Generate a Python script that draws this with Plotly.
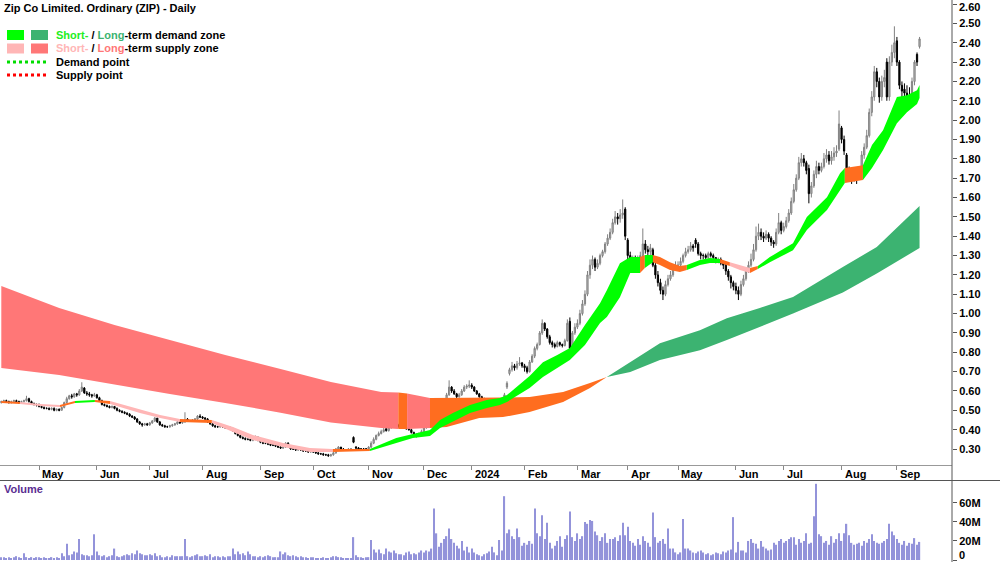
import numpy as np
import plotly.graph_objects as go

# ---------------- daily price data (Apr 2023 - Sep 2024), one line per month ----------------
open_ = [
 0.54,0.545,0.55,0.545,0.54,0.545,0.55,0.545,0.54,0.545,0.55,0.56,0.545,0.535,0.53,
 0.53,0.52,0.515,0.51,0.51,0.505,0.51,0.50,0.505,0.50,0.515,0.54,0.56,0.575,0.57,0.585,0.58,0.60,0.615,0.59,0.585,0.58,0.575,
 0.58,0.565,0.55,0.53,0.525,0.52,0.515,0.52,0.51,0.50,0.495,0.49,0.485,0.48,0.47,0.465,0.455,0.44,0.43,0.425,0.43,
 0.425,0.435,0.445,0.46,0.44,0.425,0.42,0.415,0.415,0.42,0.425,0.43,0.44,0.435,0.44,0.455,0.445,0.445,0.45,0.455,0.47,
 0.465,0.46,0.455,0.44,0.43,0.42,0.415,0.415,0.42,0.415,0.41,0.41,0.405,0.395,0.38,0.37,0.36,0.355,0.35,0.35,0.345,0.35,0.36,
 0.345,0.335,0.33,0.33,0.325,0.32,0.32,0.315,0.31,0.305,0.31,0.33,0.315,0.30,0.30,0.295,0.30,0.295,0.29,0.29,0.285,
 0.29,0.285,0.28,0.275,0.275,0.27,0.27,0.265,0.27,0.28,0.30,0.31,0.30,0.295,0.295,0.30,0.36,0.31,0.305,0.30,0.30,0.30,
 0.30,0.31,0.33,0.35,0.37,0.38,0.39,0.405,0.395,0.41,0.435,0.425,0.42,0.42,0.415,0.41,0.405,0.40,0.385,0.375,0.37,0.38,
 0.39,0.41,0.415,0.43,0.445,0.52,0.49,0.48,0.50,0.53,0.58,0.62,0.60,0.585,0.57,0.58,0.60,0.62,0.625,
 0.63,0.62,0.60,0.585,0.57,0.56,0.55,0.545,0.55,0.54,0.50,0.51,0.525,0.53,0.62,0.69,0.71,0.73,0.72,0.74,0.745,
 0.73,0.72,0.70,0.75,0.78,0.82,0.84,0.90,0.95,0.92,0.88,0.85,0.84,0.83,0.85,0.84,0.835,0.86,0.96,0.82,0.90,
 0.93,0.95,1.00,1.05,1.10,1.20,1.25,1.28,1.24,1.26,1.30,1.32,1.36,1.39,1.42,1.47,1.50,1.49,1.51,1.54,
 1.38,1.30,1.27,1.28,1.27,1.28,1.30,1.36,1.33,1.32,1.33,1.25,1.20,1.16,1.12,1.10,1.15,1.18,1.20,1.23,
 1.25,1.25,1.27,1.30,1.32,1.33,1.35,1.38,1.36,1.31,1.30,1.30,1.29,1.31,1.30,1.29,1.27,1.28,1.26,1.25,1.22,1.19,1.16,
 1.14,1.12,1.10,1.15,1.18,1.22,1.25,1.28,1.33,1.40,1.42,1.40,1.39,1.41,1.39,1.37,1.36,1.42,1.47,
 1.43,1.45,1.48,1.52,1.58,1.64,1.70,1.78,1.80,1.78,1.75,1.62,1.66,1.72,1.76,1.74,1.76,1.80,1.82,1.79,1.81,1.83,1.85,
 1.96,1.90,1.82,1.72,1.71,1.70,1.72,1.70,1.73,1.82,1.86,1.92,2.04,2.12,2.25,2.20,2.12,2.20,2.30,2.12,2.30,2.35,
 2.41,2.30,2.18,2.16,2.14,2.12,2.12,2.20,2.34,2.38,
]
high = [
 0.55,0.555,0.555,0.55,0.55,0.555,0.555,0.55,0.55,0.555,0.575,0.565,0.55,0.54,0.535,
 0.535,0.525,0.52,0.515,0.515,0.515,0.515,0.51,0.51,0.52,0.545,0.57,0.58,0.585,0.59,0.59,0.61,0.645,0.62,0.60,0.595,0.585,0.59,
 0.585,0.57,0.555,0.535,0.53,0.525,0.525,0.52,0.515,0.505,0.50,0.495,0.49,0.485,0.475,0.47,0.46,0.445,0.435,0.435,0.435,
 0.44,0.45,0.465,0.46,0.445,0.43,0.425,0.42,0.425,0.43,0.435,0.445,0.445,0.445,0.49,0.46,0.45,0.455,0.46,0.475,0.48,
 0.47,0.465,0.46,0.445,0.435,0.425,0.42,0.425,0.425,0.42,0.415,0.415,0.41,0.40,0.385,0.375,0.365,0.36,0.355,0.355,0.355,0.37,0.365,
 0.35,0.34,0.335,0.335,0.33,0.325,0.325,0.32,0.315,0.315,0.335,0.335,0.32,0.305,0.305,0.305,0.30,0.30,0.295,0.295,0.295,
 0.29,0.29,0.285,0.28,0.28,0.275,0.275,0.275,0.285,0.305,0.315,0.31,0.305,0.30,0.305,0.305,0.365,0.315,0.31,0.305,0.305,0.305,
 0.315,0.34,0.36,0.375,0.39,0.40,0.41,0.41,0.42,0.45,0.44,0.43,0.43,0.425,0.42,0.415,0.41,0.405,0.39,0.38,0.385,0.40,
 0.415,0.425,0.44,0.455,0.535,0.525,0.50,0.51,0.54,0.59,0.655,0.625,0.61,0.59,0.59,0.61,0.63,0.635,0.655,
 0.64,0.625,0.605,0.59,0.575,0.565,0.555,0.56,0.555,0.545,0.52,0.535,0.54,0.59,0.65,0.72,0.75,0.74,0.755,0.775,0.75,
 0.74,0.73,0.76,0.79,0.83,0.85,0.91,0.97,0.955,0.925,0.89,0.86,0.85,0.86,0.855,0.845,0.87,0.97,0.98,0.91,0.95,
 0.97,1.02,1.07,1.12,1.22,1.28,1.30,1.29,1.28,1.31,1.33,1.37,1.41,1.44,1.49,1.53,1.52,1.54,1.59,1.55,
 1.39,1.32,1.30,1.30,1.30,1.32,1.44,1.38,1.35,1.36,1.34,1.27,1.22,1.18,1.14,1.17,1.20,1.22,1.25,1.27,
 1.27,1.29,1.31,1.34,1.35,1.37,1.36,1.39,1.37,1.32,1.31,1.31,1.32,1.32,1.31,1.29,1.29,1.29,1.27,1.26,1.23,1.20,1.17,
 1.16,1.14,1.17,1.20,1.24,1.27,1.31,1.36,1.45,1.465,1.44,1.42,1.43,1.42,1.40,1.38,1.44,1.52,1.48,
 1.47,1.50,1.54,1.60,1.67,1.72,1.81,1.83,1.82,1.79,1.77,1.68,1.74,1.79,1.78,1.78,1.83,1.85,1.84,1.84,1.86,1.87,2.05,
 1.97,1.92,1.83,1.76,1.74,1.75,1.74,1.76,1.84,1.88,1.95,2.06,2.15,2.28,2.27,2.22,2.23,2.26,2.32,2.33,2.39,2.485,
 2.43,2.31,2.20,2.19,2.18,2.17,2.22,2.31,2.35,2.43,
]
low = [
 0.535,0.54,0.54,0.535,0.535,0.54,0.54,0.535,0.535,0.54,0.545,0.54,0.53,0.525,0.52,
 0.515,0.51,0.505,0.505,0.50,0.50,0.495,0.495,0.495,0.50,0.51,0.535,0.555,0.56,0.565,0.57,0.575,0.595,0.585,0.575,0.57,0.565,0.57,
 0.56,0.545,0.525,0.52,0.515,0.51,0.51,0.505,0.495,0.49,0.485,0.48,0.475,0.465,0.46,0.45,0.435,0.425,0.415,0.42,0.42,
 0.42,0.43,0.44,0.435,0.42,0.415,0.41,0.41,0.41,0.415,0.42,0.425,0.43,0.43,0.435,0.44,0.44,0.44,0.445,0.45,0.46,
 0.455,0.45,0.435,0.425,0.415,0.41,0.41,0.41,0.41,0.405,0.405,0.40,0.39,0.375,0.365,0.355,0.35,0.345,0.345,0.34,0.34,0.345,0.34,
 0.33,0.325,0.325,0.32,0.315,0.315,0.31,0.305,0.30,0.30,0.305,0.31,0.295,0.295,0.29,0.29,0.29,0.285,0.285,0.28,0.28,
 0.28,0.275,0.27,0.27,0.265,0.265,0.26,0.26,0.265,0.275,0.295,0.295,0.29,0.29,0.29,0.295,0.33,0.30,0.295,0.295,0.295,0.295,
 0.295,0.305,0.325,0.345,0.365,0.375,0.385,0.39,0.39,0.405,0.42,0.415,0.41,0.41,0.405,0.40,0.395,0.38,0.37,0.36,0.365,0.375,
 0.385,0.405,0.41,0.425,0.44,0.485,0.47,0.475,0.495,0.525,0.575,0.59,0.58,0.56,0.565,0.575,0.595,0.61,0.615,
 0.61,0.595,0.58,0.565,0.55,0.54,0.535,0.54,0.53,0.485,0.495,0.50,0.515,0.525,0.61,0.68,0.70,0.705,0.71,0.73,0.72,
 0.70,0.69,0.695,0.745,0.77,0.81,0.835,0.89,0.91,0.87,0.84,0.825,0.82,0.825,0.83,0.825,0.83,0.855,0.79,0.81,0.89,
 0.92,0.94,0.99,1.04,1.09,1.18,1.23,1.22,1.23,1.25,1.29,1.31,1.35,1.38,1.41,1.46,1.46,1.47,1.49,1.38,
 1.28,1.25,1.25,1.25,1.26,1.27,1.29,1.31,1.30,1.30,1.24,1.18,1.14,1.10,1.07,1.09,1.14,1.17,1.19,1.22,
 1.23,1.24,1.26,1.29,1.31,1.32,1.32,1.34,1.30,1.28,1.28,1.27,1.28,1.29,1.27,1.26,1.26,1.25,1.23,1.20,1.17,1.13,1.12,
 1.10,1.07,1.09,1.14,1.17,1.21,1.24,1.27,1.32,1.38,1.38,1.37,1.38,1.37,1.35,1.34,1.35,1.41,1.41,
 1.42,1.44,1.47,1.51,1.57,1.63,1.69,1.76,1.76,1.72,1.57,1.60,1.65,1.70,1.72,1.73,1.75,1.78,1.77,1.77,1.79,1.81,1.84,
 1.88,1.82,1.68,1.68,1.67,1.68,1.67,1.69,1.72,1.80,1.85,1.91,2.02,2.10,2.17,2.09,2.10,2.17,2.10,2.10,2.28,2.32,
 2.28,2.16,2.10,2.09,2.07,2.06,2.10,2.18,2.28,2.37,
]
close = [
 0.545,0.55,0.545,0.54,0.545,0.55,0.545,0.54,0.545,0.55,0.56,0.545,0.535,0.53,0.53,
 0.52,0.515,0.51,0.51,0.505,0.51,0.50,0.505,0.50,0.515,0.54,0.56,0.575,0.57,0.585,0.58,0.60,0.62,0.59,0.585,0.58,0.575,0.58,
 0.565,0.55,0.53,0.525,0.52,0.515,0.52,0.51,0.50,0.495,0.49,0.485,0.48,0.47,0.465,0.455,0.44,0.43,0.425,0.43,0.425,
 0.435,0.445,0.46,0.44,0.425,0.42,0.415,0.415,0.42,0.425,0.43,0.44,0.435,0.44,0.45,0.445,0.445,0.45,0.455,0.47,0.465,
 0.46,0.455,0.44,0.43,0.42,0.415,0.415,0.42,0.415,0.41,0.41,0.405,0.395,0.38,0.37,0.36,0.355,0.35,0.35,0.345,0.35,0.36,0.345,
 0.335,0.33,0.33,0.325,0.32,0.32,0.315,0.31,0.305,0.31,0.33,0.315,0.30,0.30,0.295,0.30,0.295,0.29,0.29,0.285,0.29,
 0.285,0.28,0.275,0.275,0.27,0.27,0.265,0.27,0.28,0.30,0.31,0.30,0.295,0.295,0.30,0.30,0.335,0.305,0.30,0.30,0.30,0.30,
 0.31,0.33,0.35,0.37,0.38,0.39,0.40,0.395,0.41,0.435,0.425,0.42,0.42,0.415,0.41,0.405,0.40,0.385,0.375,0.37,0.38,0.39,
 0.41,0.415,0.43,0.445,0.52,0.49,0.48,0.50,0.53,0.58,0.62,0.60,0.585,0.57,0.58,0.60,0.62,0.625,0.63,
 0.62,0.60,0.585,0.57,0.56,0.55,0.545,0.55,0.54,0.50,0.51,0.525,0.53,0.58,0.64,0.71,0.73,0.72,0.74,0.745,0.73,
 0.72,0.70,0.75,0.78,0.82,0.84,0.90,0.95,0.92,0.88,0.85,0.84,0.83,0.85,0.84,0.835,0.86,0.95,0.82,0.90,0.93,
 0.95,1.00,1.05,1.10,1.20,1.25,1.28,1.24,1.26,1.30,1.32,1.36,1.39,1.42,1.47,1.50,1.49,1.51,1.52,1.40,
 1.30,1.27,1.28,1.27,1.28,1.30,1.36,1.33,1.32,1.34,1.25,1.20,1.16,1.12,1.10,1.15,1.18,1.20,1.23,1.25,
 1.25,1.27,1.30,1.32,1.33,1.35,1.34,1.36,1.31,1.30,1.30,1.29,1.31,1.30,1.29,1.27,1.28,1.26,1.25,1.22,1.19,1.16,1.14,
 1.12,1.10,1.15,1.18,1.22,1.25,1.28,1.33,1.40,1.42,1.40,1.39,1.41,1.39,1.37,1.36,1.42,1.47,1.43,
 1.45,1.48,1.52,1.58,1.64,1.70,1.78,1.80,1.78,1.74,1.62,1.66,1.72,1.76,1.74,1.76,1.80,1.82,1.79,1.81,1.83,1.84,1.98,
 1.90,1.84,1.72,1.71,1.70,1.72,1.70,1.73,1.82,1.86,1.92,2.04,2.12,2.25,2.20,2.12,2.20,2.22,2.12,2.30,2.35,2.40,
 2.30,2.18,2.15,2.14,2.12,2.10,2.20,2.30,2.30,2.42,
]
volume_m = [
 3,3,2,3,2,3,4,3,2,7,3,2,3,2,3,
 3,2,3,2,2,3,2,3,2,7,4,17,5,6,9,8,22,6,5,5,4,5,27,
 9,5,4,5,3,4,5,12,4,3,4,5,6,5,7,6,10,7,6,5,5,
 6,5,7,4,5,3,3,4,3,5,4,4,4,4,22,4,3,4,5,6,4,
 4,5,4,6,3,4,4,3,4,3,4,4,12,6,9,6,7,5,9,6,4,4,3,
 4,3,4,5,4,3,3,3,9,6,8,5,4,5,4,3,4,3,3,2,3,
 3,2,2,2,3,2,2,3,4,4,3,3,2,2,2,2,24,5,3,3,2,3,
 3,21,11,8,11,7,6,12,9,8,10,7,6,6,5,8,9,6,7,6,8,10,
 8,10,9,12,54,28,14,18,22,25,33,22,18,15,12,20,10,14,8,
 12,8,6,5,4,6,7,9,14,8,5,21,10,67,28,32,25,22,33,24,15,
 18,16,20,17,54,28,25,47,22,39,18,12,15,20,25,14,22,26,51,24,20,
 28,22,25,40,38,42,41,30,26,20,24,28,18,22,22,24,20,26,39,26,
 35,20,18,15,22,16,25,20,18,14,50,24,18,20,22,17,33,12,12,8,
 6,8,43,12,12,10,8,7,9,10,8,6,7,5,6,8,7,6,9,8,10,11,45,
 8,19,10,10,8,20,22,18,17,12,20,14,12,10,11,18,16,20,22,
 18,20,22,24,24,16,22,18,20,28,17,18,46,80,27,25,18,20,16,25,18,22,28,
 20,28,38,26,18,16,17,18,15,20,18,22,27,20,18,17,18,20,22,38,30,26,
 22,18,16,20,15,18,17,23,16,19,
]

# trading days per calendar month (first entry = Apr 2023 from the 5th) and month labels
month_days = [15,23,21,21,23,21,22,22,19,21,21,20,20,23,19,23,22,10]
month_labels = ["May","Jun","Jul","Aug","Sep","Oct","Nov","Dec","2024","Feb","Mar","Apr",
                "May","Jun","Jul","Aug","Sep"]

# axis tick values
price_ticks = [0.30,0.40,0.50,0.60,0.70,0.80,0.90,1.00,1.10,1.20,1.30,1.40,1.50,1.60,1.70,1.80,1.90,
               2.00,2.10,2.20,2.30,2.40,2.50,2.60]
vol_ticks = [0, 20e6, 40e6, 60e6]
vol_tick_text = ["0", "20M", "40M", "60M"]

# short-term zone: bar index, upper, lower, state of the segment that starts here
st_idx = [0,7.4,15.4,23.3,29.3,37.2,43.2,55.1,63.1,71,83.7,92.1,100,112,122.7,131.8,146.5,157,163.6,170.4,
          174.4,179.5,186.3,193,198.2,201,210,215.3,221,226,232,238,240.7,245.9,250,253.9,255.8,259,261.8,
          265.8,269.7,272.5,277.7,281.7,285.7,289.6,293.6,297.6,300.7,305.5,309.5,314.7,320.2,328.2,333.4,
          335.3,338.1,342.5,346.1,350.5,356,360,364,365]
st_up = [0.548,0.543,0.533,0.527,0.548,0.553,0.548,0.507,0.476,0.455,0.450,0.414,0.372,0.331,0.305,0.300,
         0.300,0.357,0.378,0.398,0.450,0.486,0.527,0.553,0.563,0.579,0.677,0.749,0.786,0.822,0.941,1.054,
         1.121,1.260,1.292,1.292,1.303,1.303,1.292,1.266,1.246,1.251,1.277,1.287,1.282,1.266,1.251,1.235,
         1.246,1.292,1.323,1.364,1.499,1.602,1.726,1.752,1.757,1.767,1.871,1.948,2.119,2.129,2.155,2.181]
st_lo = [0.538,0.533,0.522,0.517,0.538,0.543,0.533,0.486,0.460,0.440,0.434,0.388,0.347,0.310,0.284,0.284,
         0.290,0.331,0.357,0.367,0.409,0.440,0.486,0.512,0.527,0.543,0.615,0.672,0.719,0.760,0.838,0.951,
         0.982,1.085,1.210,1.210,1.235,1.266,1.251,1.225,1.215,1.225,1.251,1.261,1.261,1.246,1.225,1.210,
         1.230,1.266,1.292,1.328,1.432,1.535,1.638,1.675,1.680,1.690,1.752,1.845,1.984,2.041,2.083,2.114]
st_state = ["O","P","P","O","G","O","P","P","P","O","P","P","P","P","P","O","G","G","G","G",
            "G","G","G","G","G","G","G","G","G","G","G","G","G","G","G","O","G","O","O",
            "O","O","G","G","G","O","P","P","O","G","G","G","G","G","G","G",
            "O","O","G","G","G","G","G","G","G"]

# long-term zone
lt_idx = [0,23,45,67,89,111,131,151,157.8,161.3,170.4,177,190,199.4,210,223.3,234,240.7,250,261.8,
          277.7,288.4,301.5,314.7,334.5,348,365]
lt_up = [1.142,1.029,0.941,0.863,0.786,0.713,0.646,0.595,0.592,0.587,0.564,0.564,0.564,0.566,0.569,0.595,
         0.641,0.672,0.749,0.847,0.914,0.976,1.029,1.086,1.241,1.344,1.556]
lt_lo = [0.719,0.682,0.634,0.584,0.538,0.488,0.437,0.409,0.403,0.403,0.408,0.414,0.460,0.465,0.491,0.543,
         0.615,0.672,0.698,0.760,0.811,0.863,0.930,1.000,1.109,1.207,1.339]
lt_state = ["R","R","R","R","R","R","R","R","O","R","O","O","O","O","O","O","O","D","D","D",
            "D","D","D","D","D","D","D"]

# ---------------- figure ----------------
ZONE_COL = {"G": "#00FF00", "P": "#FFB6B6", "O": "#FF6D1F", "R": "#FF7777", "D": "#3CB371"}
FONT = "Liberation Sans, Arial, sans-serif"
W, H = 1000, 562
PX_RIGHT = 952


def py(p):
    return 1 - p / H


n = min(len(open_), len(high), len(low), len(close), len(volume_m))
xi = list(range(n))
o = np.array(open_[:n]); c = np.array(close[:n])
hi = np.maximum(np.array(high[:n]), np.maximum(o, c))
lo = np.minimum(np.array(low[:n]), np.minimum(o, c))

fig = go.Figure()


def add_zone(idx, up, lo_, state):
    k = 0
    m = len(idx)
    while k < m - 1:
        s = state[k]
        j = k
        while j < m - 1 and state[j] == s:
            j += 1
        xs = list(idx[k:j + 1]) + list(idx[k:j + 1])[::-1]
        ys = list(up[k:j + 1]) + list(lo_[k:j + 1])[::-1]
        fig.add_trace(go.Scatter(x=xs, y=ys, mode="lines", fill="toself",
                                 fillcolor=ZONE_COL[s], line=dict(width=0, color=ZONE_COL[s]),
                                 hoverinfo="skip", showlegend=False, xaxis="x", yaxis="y"))
        k = j


add_zone(lt_idx, lt_up, lt_lo, lt_state)
add_zone(st_idx, st_up, st_lo, st_state)

fig.add_trace(go.Candlestick(
    x=xi, open=o, high=hi, low=lo, close=c,
    increasing=dict(line=dict(color="#808080", width=1), fillcolor="#C0C0C0"),
    decreasing=dict(line=dict(color="#000000", width=1), fillcolor="#000000"),
    whiskerwidth=0, showlegend=False, xaxis="x", yaxis="y"))

fig.add_trace(go.Bar(x=xi, y=np.array(volume_m[:n]) * 1e6, width=0.5,
                     marker=dict(color="#9393DA", line=dict(width=0)),
                     showlegend=False, xaxis="x2", yaxis="y2"))

# month start positions
starts = list(np.cumsum(month_days)[:-1])
starts = [s for s in starts if s < n]

xr = [-0.52, 377.9]
# the top price label and the bottom volume label sit at the very edges: draw them as annotations
price_text = ["<b>%.2f</b>" % t if t < 2.55 else "" for t in price_ticks]
vol_text = ["<b>%s</b>" % t if v > 0 else "" for v, t in zip(vol_ticks, vol_tick_text)]
fig.update_layout(
    width=W, height=H, margin=dict(l=0, r=0, t=0, b=0, autoexpand=False),
    paper_bgcolor="white", plot_bgcolor="white", showlegend=False,
    font=dict(family=FONT, size=11, color="black"),
    xaxis=dict(domain=[0, PX_RIGHT / W], range=xr, anchor="y", showgrid=False, zeroline=False,
               tickvals=starts, ticks="outside", ticklen=4, tickcolor="#888888",
               showticklabels=False, showline=True, linecolor="#999999", linewidth=1,
               rangeslider=dict(visible=False), fixedrange=True, automargin=False),
    yaxis=dict(domain=[1 - 465 / H, 1], range=[0.2173, 2.621], side="right", anchor="x",
               tickvals=price_ticks, ticktext=price_text,
               ticks="outside", ticklen=4, tickcolor="#555555", showgrid=False, zeroline=False,
               showline=False, ticklabeloverflow="allow", automargin=False,
               tickfont=dict(family=FONT, size=11, color="black")),
    xaxis2=dict(domain=[0, PX_RIGHT / W], range=xr, anchor="y2", showgrid=False, zeroline=False,
                showticklabels=False, ticks="", showline=False, automargin=False),
    yaxis2=dict(domain=[0, 1 - 480 / H], range=[-2.1e6, 84e6], side="right", anchor="x2",
                tickvals=vol_ticks, ticktext=vol_text,
                ticks="outside", ticklen=4, tickcolor="#555555", showgrid=False, zeroline=False,
                showline=False, ticklabeloverflow="allow", automargin=False,
                tickfont=dict(family=FONT, size=11, color="black")),
)

shapes = []
# frame lines
shapes.append(dict(type="line", xref="paper", yref="paper", x0=PX_RIGHT / W, x1=PX_RIGHT / W,
                   y0=0, y1=1, line=dict(color="#555555", width=1)))
shapes.append(dict(type="line", xref="paper", yref="paper", x0=0, x1=1,
                   y0=py(480.5), y1=py(480.5), line=dict(color="#555555", width=1)))
# legend swatches
for row, (c1, c2) in enumerate([("#00FF00", "#3CB371"), ("#FFB6B6", "#FF7777")]):
    yc = 35 + 13.5 * row
    for (x0, x1, col) in [(7, 24, c1), (31, 48, c2)]:
        shapes.append(dict(type="rect", xref="paper", yref="paper", x0=x0 / W, x1=x1 / W,
                           y0=py(yc + 5), y1=py(yc - 5), fillcolor=col, line=dict(width=0)))
for yc, col in [(62, "#00DD00"), (75, "#FF0000")]:
    shapes.append(dict(type="line", xref="paper", yref="paper", x0=7 / W, x1=48 / W,
                       y0=py(yc), y1=py(yc), line=dict(color=col, width=3, dash="dot")))
fig.update_layout(shapes=shapes)

ann = []
ann.append(dict(x=2 / W, y=py(8), xref="paper", yref="paper", xanchor="left", yanchor="middle",
                showarrow=False, text="<b>Zip Co Limited. Ordinary (ZIP) - Daily</b>",
                font=dict(family=FONT, size=11, color="black")))
leg_txt = [
    '<b><span style="color:#22EE22">Short-</span> / <span style="color:#3CB371">Long</span>-term demand zone</b>',
    '<b><span style="color:#FFB6B6">Short-</span> / <span style="color:#FF7777">Long</span>-term supply zone</b>',
    '<b>Demand point</b>',
    '<b>Supply point</b>',
]
for k, t in enumerate(leg_txt):
    ann.append(dict(x=54 / W, y=py([35, 48.5, 62, 75][k]), xref="paper", yref="paper",
                    xanchor="left", yanchor="middle", showarrow=False, text=t,
                    font=dict(family=FONT, size=11, color="black")))
ann.append(dict(x=2 / W, y=py(489), xref="paper", yref="paper", xanchor="left", yanchor="middle",
                showarrow=False, text="<b>Volume</b>", font=dict(family=FONT, size=11, color="#5A2D91")))
for s, lab in zip(starts, month_labels):
    ann.append(dict(x=s + 0.5, y=py(474), xref="x", yref="paper", xanchor="left", yanchor="middle",
                    showarrow=False, text="<b>%s</b>" % lab,
                    font=dict(family=FONT, size=11, color="black")))
# edge labels kept fully inside the page
ann.append(dict(x=958 / W, y=1, xref="paper", yref="paper", xanchor="left", yanchor="top",
                showarrow=False, text="<b>%.2f</b>" % price_ticks[-1], borderpad=0,
                font=dict(family=FONT, size=11, color="black")))
ann.append(dict(x=958 / W, y=0, xref="paper", yref="paper", xanchor="left", yanchor="bottom",
                showarrow=False, text="<b>%s</b>" % vol_tick_text[0], borderpad=0,
                font=dict(family=FONT, size=11, color="black")))
fig.update_layout(annotations=ann)

fig.write_html("out.html")
